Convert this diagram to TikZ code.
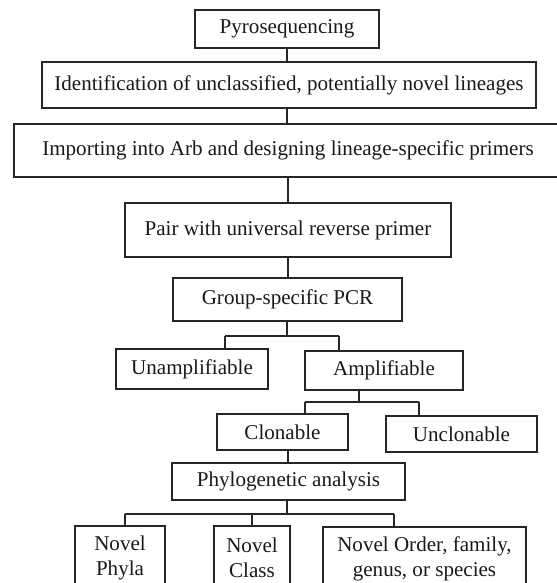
\documentclass[tikz,border=0pt]{standalone}
\usepackage{fontspec}
\setmainfont{Liberation Serif}
\newcommand\mybox[6]{\node[box,minimum width={(#4-#2)*0.75pt},minimum height={(#5-#3)*0.75pt}] (#1) at ({(#2+#4)/2},{(#3+#5)/2}) {#6};}
\begin{document}
\begin{tikzpicture}[x=0.75pt,y=-0.75pt,
  box/.style={draw=black!85, line width=1.1pt, rectangle, inner sep=0pt, align=center, text=black!90, font=\fontsize{15.8}{18.75}\selectfont},
  conn/.style={draw=black!85, line width=1.1pt}]
\useasboundingbox (0,0) rectangle (557,583);
\clip (0,0) rectangle (557,583);
\mybox{pyro}{195}{10}{379}{48}{Pyrosequencing}
\mybox{ident}{42}{62}{536}{108}{Identification of unclassified, potentially novel lineages}
\mybox{import}{14}{124}{562}{177}{Importing into Arb and designing lineage-specific primers}
\mybox{pair}{125}{203}{451}{257}{Pair with universal reverse primer}
\mybox{group}{173}{278}{402}{321}{Group-specific PCR}
\mybox{unamp}{116}{349}{268}{389}{Unamplifiable}
\mybox{amp}{305}{351}{463}{390}{Amplifiable}
\mybox{clon}{217}{414}{348}{450}{Clonable}
\mybox{unclon}{386}{416}{537}{452}{Unclonable}
\mybox{phylo}{172}{463}{405}{500}{Phylogenetic analysis}
\mybox{phyla}{75}{526}{165}{590}{Novel\\Phyla}
\mybox{class}{214}{526}{290}{590}{Novel\\Class}
\mybox{order}{323}{527}{526}{590}{Novel Order, family,\\genus, or species}
% connector coordinates
\coordinate (gb) at (287,336);
\coordinate (gl) at (225,336);
\coordinate (gr) at (339,336);
\coordinate (ab) at (359,402);
\coordinate (cl) at (305,402);
\coordinate (cr) at (419,402);
\coordinate (cs) at (288,450);
\coordinate (pb) at (287,514);
\coordinate (pl) at (125,514);
\coordinate (pc) at (252,514);
\coordinate (pr) at (394,514);
\draw[conn] (pyro.south) -- (pyro.south |- ident.north);
\draw[conn] (pyro.south |- ident.south) -- (pyro.south |- import.north);
\draw[conn] (import.south) -- (import.south |- pair.north);
\draw[conn] (pair.south) -- (pair.south |- group.north);
\draw[conn] (gb |- group.south) -- (gb);
\draw[conn] (gl) -- (gr);
\draw[conn] (gl) -- (gl |- unamp.north);
\draw[conn] (gr) -- (gr |- amp.north);
\draw[conn] (ab |- amp.south) -- (ab);
\draw[conn] (cl) -- (cr);
\draw[conn] (cl) -- (cl |- clon.north);
\draw[conn] (cr) -- (cr |- unclon.north);
\draw[conn] (cs |- clon.south) -- (cs |- phylo.north);
\draw[conn] (pb |- phylo.south) -- (pb);
\draw[conn] (pl) -- (pr);
\draw[conn] (pl) -- (pl |- phyla.north);
\draw[conn] (pc) -- (pc |- class.north);
\draw[conn] (pr) -- (pr |- order.north);
\end{tikzpicture}
\end{document}
